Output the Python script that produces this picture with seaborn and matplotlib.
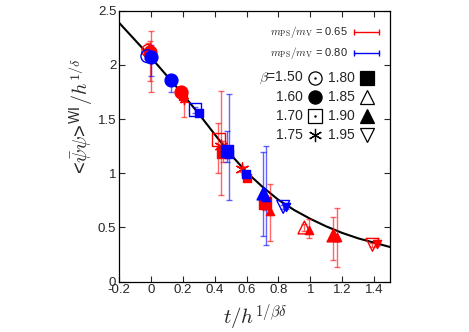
import numpy as np
import pandas as pd
import matplotlib
matplotlib.use("Agg")
import matplotlib.pyplot as plt
import seaborn as sns

# scaling curve
curve_x = [-0.2, -0.1, 0.0, 0.1, 0.2, 0.3, 0.4, 0.5, 0.6, 0.7, 0.8, 0.9, 1.0, 1.1, 1.2, 1.3, 1.4, 1.5]
curve_y = [2.39, 2.23, 2.07, 1.90, 1.73, 1.55, 1.36, 1.175, 1.01, 0.875, 0.755, 0.66, 0.58, 0.51, 0.45, 0.40, 0.36, 0.32]

# mPS/mV = 0.65 (red)
red_x = [-0.016, -0.005, 0.003, 0.187, 0.203, 0.21, 0.423, 0.44, 0.45, 0.57, 0.60, 0.716, 0.747, 0.963, 0.99, 1.14, 1.17, 1.39, 1.42]
red_y = [2.13, 2.12, 2.08, 1.75, 1.71, 1.68, 1.31, 1.25, 1.20, 1.04, 0.96, 0.73, 0.655, 0.50, 0.475, 0.43, 0.41, 0.34, 0.35]
red_lo = [2.06, 1.85, 1.75, 1.72, 1.66, 1.52, 1.00, 0.80, 1.10, 1.01, 0.93, 0.66, 0.38, 0.47, 0.40, 0.20, 0.14, 0.32, 0.33]
red_hi = [2.20, 2.22, 2.31, 1.78, 1.76, 1.76, 1.46, 1.76, 1.30, 1.07, 0.99, 0.80, 0.90, 0.53, 0.58, 0.60, 0.68, 0.36, 0.37]
red_beta = ["1.50", "1.60", "1.70", "1.60", "1.70", "1.75", "1.70", "1.75", "1.80", "1.75", "1.80", "1.80", "1.85", "1.85", "1.90", "1.90", "1.90", "1.95", "1.95"]
red_small = [0, 0, 1, 0, 1, 1, 0, 0, 0, 0, 1, 0, 1, 0, 1, 0, 1, 0, 1]

# mPS/mV = 0.80 (blue)
blue_x = [-0.022, -0.001, 0.124, 0.277, 0.30, 0.476, 0.49, 0.595, 0.705, 0.72, 0.83, 0.845]
blue_y = [2.08, 2.07, 1.86, 1.585, 1.56, 1.21, 1.18, 0.995, 0.815, 0.78, 0.69, 0.69]
blue_lo = [2.05, 1.90, 1.75, 1.56, 1.54, 1.10, 0.75, 0.97, 0.42, 0.34, 0.67, 0.67]
blue_hi = [2.11, 2.18, 1.90, 1.61, 1.58, 1.39, 1.73, 1.02, 1.20, 1.25, 0.71, 0.71]
blue_beta = ["1.50", "1.60", "1.60", "1.70", "1.70", "1.80", "1.80", "1.80", "1.90", "1.90", "1.95", "1.95"]
blue_small = [0, 0, 0, 0, 1, 0, 1, 1, 0, 1, 0, 1]

betas = ["1.50", "1.60", "1.70", "1.75", "1.80", "1.85", "1.90", "1.95"]
# marker, filled
beta_style = {
    "1.50": ("o", False), "1.60": ("o", True), "1.70": ("s", False), "1.75": ((6, 2, 0), True),
    "1.80": ("s", True), "1.85": ("^", False), "1.90": ("^", True), "1.95": ("v", False),
}

df = pd.concat([
    pd.DataFrame({"x": red_x, "y": red_y, "lo": red_lo, "hi": red_hi,
                  "beta": red_beta, "small": red_small, "ratio": "0.65"}),
    pd.DataFrame({"x": blue_x, "y": blue_y, "lo": blue_lo, "hi": blue_hi,
                  "beta": blue_beta, "small": blue_small, "ratio": "0.80"}),
])
colors = {"0.65": "#ff0000", "0.80": "#0000ff"}

sns.set_style("ticks")
plt.rcParams["font.family"] = ["Liberation Sans", "DejaVu Sans"]
plt.rcParams["mathtext.fontset"] = "cm"

fig = plt.figure(figsize=(4.69, 3.32), dpi=100)
ax = fig.add_axes([0.2537, 0.1515, 0.5779, 0.8163])

sns.lineplot(x=curve_x, y=curve_y, ax=ax, color="black", lw=1.5, zorder=2)

for ratio, sub in df.groupby("ratio"):
    c = colors[ratio]
    ax.errorbar(sub["x"], sub["y"], yerr=[sub["y"] - sub["lo"], sub["hi"] - sub["y"]],
                fmt="none", ecolor=c, elinewidth=1.0, capsize=2, alpha=0.6, zorder=3)
    for (beta, small), g in sub.groupby(["beta", "small"]):
        m, filled = beta_style[beta]
        size = 35 if small else 85
        if filled or small:
            sns.scatterplot(data=g, x="x", y="y", ax=ax, marker=m, s=size, color=c,
                            edgecolor=c, linewidth=1.0, zorder=4, legend=False)
        else:
            sns.scatterplot(data=g, x="x", y="y", ax=ax, marker=m, s=size, facecolor="none",
                            edgecolor=c, linewidth=1.0, zorder=4, legend=False)

ax.set_xlim(-0.2, 1.5)
ax.set_ylim(0, 2.5)
ax.set_xticks(np.arange(-0.2, 1.41, 0.2))
ax.set_xticklabels(["-0.2", "0", "0.2", "0.4", "0.6", "0.8", "1", "1.2", "1.4"])
ax.set_yticks([0, 0.5, 1, 1.5, 2, 2.5])
ax.set_yticklabels(["0", "0.5", "1", "1.5", "2", "2.5"])
ax.tick_params(direction="in", top=True, right=True, length=4, width=0.8, labelsize=9.5, pad=2)
for s in ax.spines.values():
    s.set_linewidth(0.9)
    s.set_color("black")

ax.set_xlabel(r"$t/h^{\mathsf{1/}\beta\delta}$", fontsize=15)
ax.set_ylabel(r"<$\bar{\psi}\psi$>$^{\mathsf{WI}}/h^{\mathsf{1/}\delta}$", fontsize=14.5)
ax.xaxis.set_label_coords(0.5, -0.075)
ax.yaxis.set_label_coords(-0.09, 0.61)

# series key
for yy, ratio in [(0.923, "0.65"), (0.845, "0.80")]:
    ax.text(0.845, yy, r"$m_{\rm PS}/m_{\rm V}$ = " + ratio, transform=ax.transAxes,
            ha="right", va="center", fontsize=8)
    ax.plot([0.868, 0.96], [yy, yy], transform=ax.transAxes, color=colors[ratio],
            marker="|", ms=5, lw=1.0, clip_on=False)

# beta key
rows = [0.753, 0.683, 0.613, 0.541]
for i, beta in enumerate(betas):
    col, row = divmod(i, 4)
    tx, mx = (0.68, 0.722) if col == 0 else (0.87, 0.914)
    label = r"$\beta$=" + beta if i == 0 else beta
    ax.text(tx, rows[row], label, transform=ax.transAxes, ha="right", va="center", fontsize=10)
    m, filled = beta_style[beta]
    ax.plot([mx], [rows[row]], transform=ax.transAxes, marker=m, ms=9.5,
            mfc="black" if filled else "white", mec="black", mew=0.9, clip_on=False)
    if beta in ("1.50", "1.70"):
        ax.plot([mx], [rows[row]], transform=ax.transAxes, marker=".", ms=1.5, color="black")

fig.savefig("out.png", dpi=100)
